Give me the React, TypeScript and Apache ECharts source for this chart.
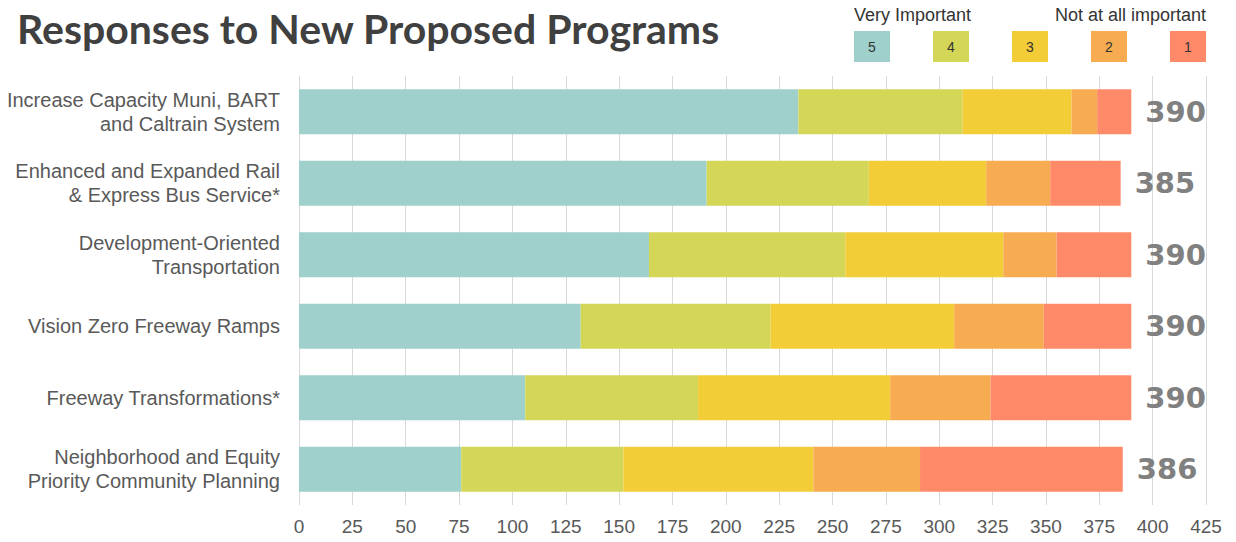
import React, { useEffect, useRef } from "react";
import * as echarts from "echarts";

const titleText = "Responses to New Proposed Programs";
const categories = [
  "Increase Capacity Muni, BART\nand Caltrain System",
  "Enhanced and Expanded Rail\n& Express Bus Service*",
  "Development-Oriented\nTransportation",
  "Vision Zero Freeway Ramps",
  "Freeway Transformations*",
  "Neighborhood and Equity\nPriority Community Planning",
];
const levels = ["5", "4", "3", "2", "1"];
const levelColors = ["#9FD0CB", "#D4D658", "#F2CD37", "#F7AC52", "#FF8A6A"];
const s5 = [234, 191, 164, 132, 106, 76];
const s4 = [77, 76, 92, 89, 81, 76];
const s3 = [51, 55, 74, 86, 90, 89];
const s2 = [12, 30, 25, 42, 47, 50];
const s1 = [16, 33, 35, 41, 66, 95];
const totals = [390, 385, 390, 390, 390, 386];
const legendLeftText = "Very Important";
const legendRightText = "Not at all important";
const seriesValues = [s5, s4, s3, s2, s1];

export default function App() {
  const ref = useRef<HTMLDivElement>(null);
  useEffect(() => {
    if (!ref.current) return;
    const chart = echarts.init(ref.current, null, { renderer: "svg" });
    const series = levels.map((lv, i) => ({
      name: lv,
      type: "bar",
      stack: "total",
      barWidth: 45,
      data: seriesValues[i],
      itemStyle: { color: levelColors[i] },
      label:
        i === levels.length - 1
          ? {
              show: true,
              position: "right",
              distance: 14,
              formatter: (p: any) => String(totals[p.dataIndex]),
              fontFamily: "DejaVu Sans",
              fontWeight: "bold",
              fontSize: 29,
              color: "#808080",
            }
          : { show: false },
    }));
    const legendGraphics: any[] = [];
    levels.forEach((lv, i) => {
      legendGraphics.push({
        type: "rect",
        left: 854 + i * 79,
        top: 31,
        shape: { width: 36, height: 31 },
        style: { fill: levelColors[i] },
      });
      legendGraphics.push({
        type: "text",
        x: 854 + i * 79 + 18,
        y: 47,
        style: {
          text: lv,
          fill: "#333333",
          font: "14px 'Liberation Sans'",
          align: "center",
          verticalAlign: "middle",
        },
      });
    });
    legendGraphics.push({
      type: "text",
      left: 854,
      top: 6,
      style: { text: legendLeftText, fill: "#333333", font: "18px 'Liberation Sans'" },
    });
    legendGraphics.push({
      type: "text",
      right: 30,
      top: 6,
      style: { text: legendRightText, fill: "#333333", font: "18px 'Liberation Sans'" },
    });
    chart.setOption({
      animation: false,
      title: {
        text: titleText,
        left: 12,
        top: 3,
        textStyle: {
          fontFamily: "Lato",
          fontWeight: "bold",
          fontSize: 41,
          color: "#404040",
        },
      },
      grid: { left: 299, right: 30, top: 76, bottom: 37, containLabel: false },
      xAxis: {
        type: "value",
        min: 0,
        max: 425,
        interval: 25,
        axisLine: { show: false },
        axisTick: { show: false },
        splitLine: { show: true, lineStyle: { color: "#d9d9d9", width: 1 } },
        axisLabel: {
          fontFamily: "Liberation Sans",
          fontSize: 19,
          color: "#595959",
          margin: 12,
        },
      },
      yAxis: {
        type: "category",
        inverse: true,
        data: categories,
        axisLine: { show: true, lineStyle: { color: "#d9d9d9" } },
        axisTick: { show: false },
        axisLabel: {
          fontFamily: "Liberation Sans",
          fontSize: 20,
          lineHeight: 24,
          color: "#595959",
          margin: 19,
        },
      },
      graphic: legendGraphics,
      series,
    });
    return () => chart.dispose();
  }, []);
  return (
    <div
      ref={ref}
      style={{ position: "fixed", left: 0, top: 0, width: 1236, height: 542, background: "#ffffff" }}
    />
  );
}
